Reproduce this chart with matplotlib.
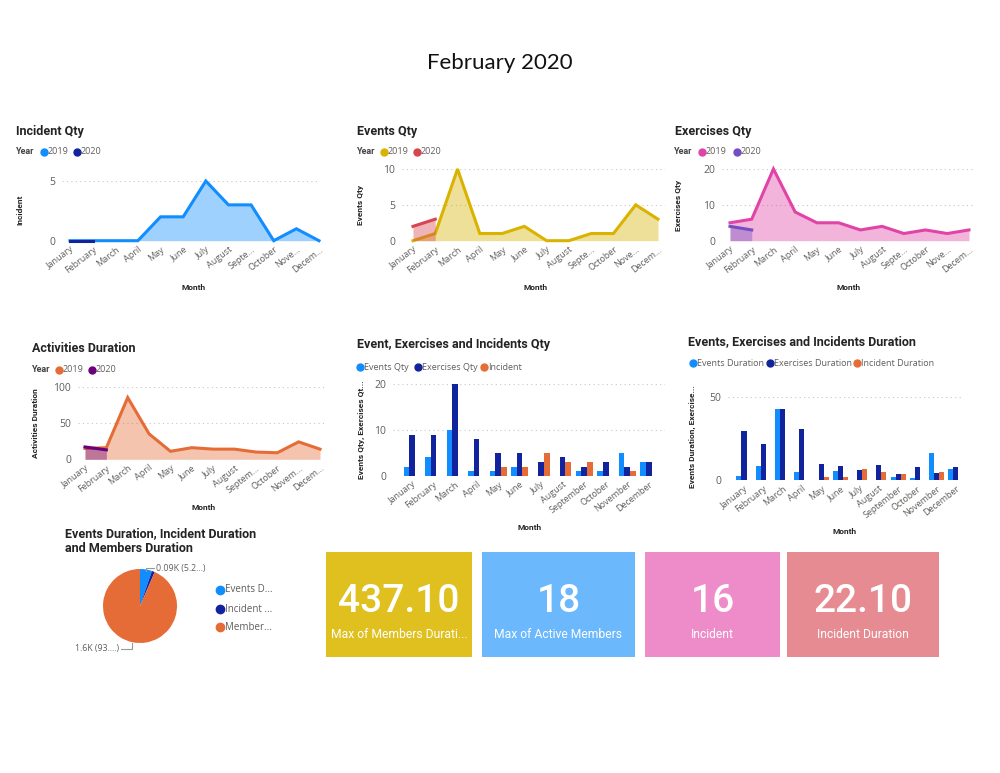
import matplotlib
matplotlib.use('Agg')
import matplotlib.pyplot as plt
from matplotlib.lines import Line2D
from matplotlib.patches import Rectangle
import numpy as np

# ---------------- data ----------------
months = ['January', 'February', 'March', 'April', 'May', 'June', 'July',
          'August', 'September', 'October', 'November', 'December']
months_trunc_a = ['January', 'February', 'March', 'April', 'May', 'June', 'July',
                  'August', 'Septe...', 'October', 'Nove...', 'Decem...']
months_trunc_b = ['January', 'February', 'March', 'April', 'May', 'June', 'July',
                  'August', 'Septem...', 'October', 'Novem...', 'Decem...']

incident_2019 = [0, 0, 0, 0, 2, 2, 5, 3, 3, 0, 1, 0]
incident_2020 = [0, 0]
events_2019 = [0, 1, 10, 1, 1, 2, 0, 0, 1, 1, 5, 3]
events_2020 = [2, 3]
exercises_2019 = [5, 6, 20, 8, 5, 5, 3, 4, 2, 3, 2, 3]
exercises_2020 = [4, 3]
activities_2019 = [15, 16, 85, 35, 11, 16, 14, 14, 10, 9, 24, 14]
activities_2020 = [17, 13]

qty_events = [2, 4, 10, 1, 1, 2, 0, 0, 1, 1, 5, 3]
qty_exercises = [9, 9, 20, 8, 5, 5, 3, 4, 2, 3, 2, 3]
qty_incident = [0, 0, 0, 0, 2, 2, 5, 3, 3, 0, 1, 0]

dur_events = [2.6, 8.4, 42.4, 5, 0, 5.4, 0, 0, 2, 1.2, 16, 6.4]
dur_exercises = [29.4, 21.6, 42.4, 30.4, 9.4, 8.6, 6.2, 9.2, 3.4, 7.6, 4.2, 7.6]
dur_incident = [0, 0, 0, 0, 1.8, 1.6, 6.8, 4.6, 3.8, 0, 4.6, 0]

pie_names = ['Events D...', 'Incident ...', 'Member...']
pie_values = [89.4, 22.1, 1600]

card_values = ['437.10', '18', '16', '22.10']
card_labels = ['Max of Members Durati...', 'Max of Active Members', 'Incident', 'Incident Duration']

# ---------------- style ----------------
BLUE = '#118DFF'
NAVY = '#12239E'
ORANGE = '#E66C37'
PURPLE = '#6B007B'
PINK = '#E044A7'
VIOLET = '#744EC2'
YELLOW = '#D9B300'
RED = '#D64550'
GREY = '#605E5C'
DARK = '#252423'
TITLE_FONT = ['Roboto', 'DejaVu Sans']
TEXT_FONT = ['Open Sans', 'DejaVu Sans']

W, H = 1000, 773
fig = plt.figure(figsize=(10, 7.73), dpi=100)
fig.patch.set_facecolor('white')


def fx(x):
    return x / W


def fy(y):
    return 1 - y / H


def axes_px(x0, x1, y0, y1):
    ax = fig.add_axes([fx(x0), fy(y1), (x1 - x0) / W, (y1 - y0) / H])
    ax.patch.set_alpha(0)
    for s in ax.spines.values():
        s.set_visible(False)
    return ax


def ftext(x, y, s, **kw):
    fig.text(fx(x), fy(y), s, **kw)


def dot(x, y, c, ms=5):
    fig.add_artist(Line2D([fx(x)], [fy(y)], marker='o', ms=ms, color=c,
                          mec=c, transform=fig.transFigure, linestyle='none'))


def title(x, y, s):
    ftext(x, y, s, fontsize=9, fontweight='bold', family=TITLE_FONT,
          color=DARK, va='center', ha='left')


def year_legend(x_year, items, y):
    ftext(x_year, y, 'Year', fontsize=6.5, fontweight='bold', family=TITLE_FONT,
          color='#444444', va='center', ha='left')
    for (dx, c, lab) in items:
        dot(dx, y, c)
        ftext(dx + 4, y, lab, fontsize=6.5, family=TEXT_FONT, color=GREY,
              va='center', ha='left')


def series_legend(items, y):
    for (dx, c, lab) in items:
        dot(dx, y, c)
        ftext(dx + 4, y, lab, fontsize=6.5, family=TEXT_FONT, color=GREY,
              va='center', ha='left')


def style_axis(ax, yticks, labels, ylabel, ylabel_x, ylabel_y, month_x, month_y):
    ax.set_yticks(yticks)
    ax.set_yticklabels([str(t) for t in yticks], fontsize=7.5, family=TEXT_FONT, color=GREY)
    ax.set_xticks(range(12))
    ax.set_xticklabels(labels, rotation=38, ha='right', va='top', rotation_mode='anchor',
                       fontsize=6.5, family=TEXT_FONT, color=GREY)
    ax.tick_params(axis='both', length=0)
    ax.tick_params(axis='y', pad=5)
    ax.tick_params(axis='x', pad=3)
    for t in yticks:
        ax.axhline(t, color='#C8C6C4', lw=0.8, ls=(0, (1, 3)), zorder=0)
    ftext(ylabel_x, ylabel_y, ylabel, rotation=90, fontsize=6, fontweight='bold',
          family=TITLE_FONT, color=DARK, ha='center', va='center')
    ftext(month_x, month_y, 'Month', fontsize=6, fontweight='bold',
          family=TITLE_FONT, color=DARK, ha='center', va='center')


def line_chart(geom, v19, v20, c19, c20, ymax):
    gx0, gx1, jan, dec, ytop, ybot = geom
    ax = axes_px(gx0, gx1, ytop, ybot)
    unit = (dec - jan) / 11.0
    ax.set_xlim(-(jan - gx0) / unit, 11 + (gx1 - dec) / unit)
    ax.set_ylim(0, ymax)
    x19 = np.arange(len(v19))
    x20 = np.arange(len(v20))
    ax.fill_between(x19, 0, v19, color=c19, alpha=0.4, lw=0, zorder=2)
    ax.plot(x19, v19, color=c19, lw=2.2, zorder=3, clip_on=False, solid_joinstyle='miter')
    ax.fill_between(x20, 0, v20, color=c20, alpha=0.4, lw=0, zorder=4)
    ax.plot(x20, v20, color=c20, lw=2.2, zorder=5, clip_on=False)
    return ax


# ---------------- page title ----------------
ftext(500, 63, 'February 2020', fontsize=16, family=['Lato', 'DejaVu Sans'],
      color='#111111', ha='center', va='center')

# ---------------- Incident Qty ----------------
title(16, 131, 'Incident Qty')
year_legend(16, [(44, BLUE, '2019'), (77, NAVY, '2020')], 152)
ax1 = line_chart((62, 320, 70, 319, 181, 240.7), incident_2019, incident_2020, BLUE, NAVY, 5)
style_axis(ax1, [0, 5], months_trunc_a, 'Incident', 20, 210, 194, 287)

# ---------------- Events Qty ----------------
title(357, 131, 'Events Qty')
year_legend(357, [(384, YELLOW, '2019'), (417, RED, '2020')], 152)
ax2 = line_chart((402, 665, 413, 658, 169, 240.7), events_2019, events_2020, YELLOW, RED, 10)
style_axis(ax2, [0, 5, 10], months_trunc_a, 'Events Qty', 361, 205, 536, 287)

# ---------------- Exercises Qty ----------------
title(675, 131, 'Exercises Qty')
year_legend(674, [(702, PINK, '2019'), (737, VIOLET, '2020')], 152)
ax3 = line_chart((722, 975, 730, 969, 169, 240.7), exercises_2019, exercises_2020, PINK, VIOLET, 20)
style_axis(ax3, [0, 10, 20], months_trunc_a, 'Exercises Qty', 679, 205, 849, 287)

# ---------------- Activities Duration ----------------
title(32, 348, 'Activities Duration')
year_legend(32, [(59, ORANGE, '2019'), (92, PURPLE, '2020')], 370)
ax4 = line_chart((78, 327, 85, 320, 386.7, 459.3), activities_2019, activities_2020, ORANGE, PURPLE, 100)
style_axis(ax4, [0, 50, 100], months_trunc_b, 'Activities Duration', 35, 423, 204, 507)


# ---------------- bar charts ----------------
def bar_chart(geom, series, colors, ymax):
    gx0, gx1, jan, dec, ytop, ybot = geom
    ax = axes_px(gx0, gx1, ytop, ybot)
    unit = (dec - jan) / 11.0
    ax.set_xlim(-(jan - gx0) / unit, 11 + (gx1 - dec) / unit)
    ax.set_ylim(0, ymax)
    bw = 0.26
    x = np.arange(12)
    for i, (vals, c) in enumerate(zip(series, colors)):
        ax.bar(x + (i - 1) * bw, vals, width=bw, color=c, zorder=3, lw=0)
    return ax


title(357, 345, 'Event, Exercises and Incidents Qty')
series_legend([(360, BLUE, 'Events Qty'), (418, NAVY, 'Exercises Qty'),
               (484, ORANGE, 'Incident')], 367)
ax5 = bar_chart((393, 665, 412, 648.8, 384.3, 475.7),
                [qty_events, qty_exercises, qty_incident], [BLUE, NAVY, ORANGE], 20)
style_axis(ax5, [0, 10, 20], months, 'Events Qty, Exercises Qt...', 361, 430, 530, 527)

title(688, 342, 'Events, Exercises and Incidents Duration')
series_legend([(693, BLUE, 'Events Duration'), (770, NAVY, 'Exercises Duration'),
               (857, ORANGE, 'Incident Duration')], 363)
ax6 = bar_chart((728, 962, 744, 955.8, 396.7, 480),
                [dur_events, dur_exercises, dur_incident], [BLUE, NAVY, ORANGE], 50)
style_axis(ax6, [0, 50], months, 'Events Duration, Exercise...', 692, 437, 845, 531)

# ---------------- pie ----------------
ftext(65, 534, 'Events Duration, Incident Duration', fontsize=9, fontweight='bold',
      family=TITLE_FONT, color=DARK, va='center', ha='left')
ftext(65, 548, 'and Members Duration', fontsize=9, fontweight='bold',
      family=TITLE_FONT, color=DARK, va='center', ha='left')
axp = axes_px(103, 177, 569, 643)
axp.pie(pie_values, colors=[BLUE, NAVY, ORANGE], startangle=90, counterclock=False,
        wedgeprops=dict(lw=0))
axp.set_xlim(-1, 1)
axp.set_ylim(-1, 1)
axp.set_aspect('auto')
total = sum(pie_values)
lab1 = '%.2fK (%.1f...)' % (pie_values[0] / 1000, 100 * pie_values[0] / total)
lab2 = '%.1fK (%d....)' % (pie_values[2] / 1000, int(100 * pie_values[2] / total))
fig.add_artist(Line2D([fx(146), fx(146), fx(154)], [fy(571), fy(568), fy(568)],
                      transform=fig.transFigure, color='#999999', lw=0.8))
ftext(156, 568, lab1, fontsize=6.3, family=TEXT_FONT, color=GREY, va='center', ha='left')
fig.add_artist(Line2D([fx(132), fx(132), fx(121)], [fy(643), fy(649), fy(649)],
                      transform=fig.transFigure, color='#999999', lw=0.8))
ftext(119, 649, lab2, fontsize=6.3, family=TEXT_FONT, color=GREY, va='center', ha='right')
for name, c, yy in zip(pie_names, [BLUE, NAVY, ORANGE], [590, 609, 627]):
    dot(220, yy, c, ms=6)
    ftext(225, yy, name, fontsize=7, family=TEXT_FONT, color=GREY, va='center', ha='left')

# ---------------- cards ----------------
card_boxes = [(326, 472), (482, 635), (645, 780), (787, 939)]
card_colors = ['#E0C01E', '#6CB8FC', '#EE8CCA', '#E68B92']
for (x0, x1), c, v, lab in zip(card_boxes, card_colors, card_values, card_labels):
    fig.add_artist(Rectangle((fx(x0), fy(657)), (x1 - x0) / W, (657 - 552) / H,
                             transform=fig.transFigure, color=c, lw=0))
    xc = (x0 + x1) / 2
    ftext(xc, 602, v, fontsize=28, family=['Roboto', 'DejaVu Sans'], fontweight='medium',
          color='white', ha='center', va='center')
    ftext(xc, 634, lab, fontsize=8.7, family=['Roboto', 'DejaVu Sans'], color='white',
          ha='center', va='center')

fig.savefig('out.png', dpi=100, facecolor='white')
